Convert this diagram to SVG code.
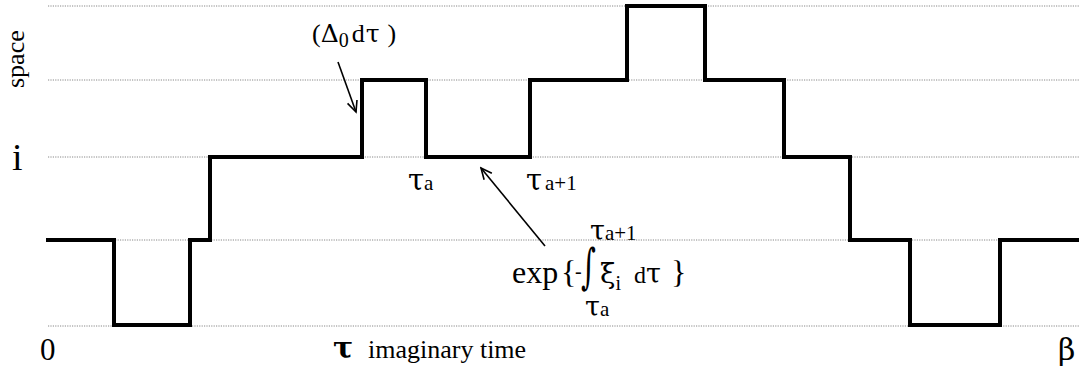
<svg xmlns="http://www.w3.org/2000/svg" width="1079" height="370" viewBox="0 0 1079 370">
<style>
.grid{stroke:#888;stroke-width:1;stroke-dasharray:1.2,1.2;fill:none}
.path{stroke:#000;stroke-width:4;fill:none;stroke-linejoin:miter;stroke-linecap:square}
.arr{stroke:#000;stroke-width:1.6;fill:none}
text{font-family:"Liberation Serif","Times New Roman",serif;fill:#000}
.g{font-family:"DejaVu Serif","Liberation Serif",serif}
</style>
<defs>
<marker id="ah" markerWidth="14" markerHeight="14" refX="12" refY="7" orient="auto" markerUnits="userSpaceOnUse">
<polyline points="1,2 12,7 1,12" fill="none" stroke="#000" stroke-width="1.6"/>
</marker>
</defs>
<rect width="1079" height="370" fill="#fff"/>
<g id="grid">
<line class="grid" x1="48" y1="6" x2="1079" y2="6"/>
<line class="grid" x1="48" y1="80" x2="1079" y2="80"/>
<line class="grid" x1="48" y1="157" x2="1079" y2="157"/>
<line class="grid" x1="48" y1="240" x2="1079" y2="240"/>
<line class="grid" x1="48" y1="326" x2="1079" y2="326"/>
</g>
<g id="worldline">
<path class="path" d="M48,240 H114 V325 H190 V240 H210 V157 H362 V80 H426 V157 H530 V80 H627 V6 H705 V80 H784 V157 H850 V240 H910 V325 H1000 V240 H1079"/>
</g>
<g id="axes">
<text transform="translate(24,88) rotate(-90)" font-size="26">space</text>
<text x="12" y="170" font-size="38">i</text>
<text x="40" y="360" font-size="31">0</text>
<text x="1058" y="360" font-size="30" class="g">β</text>
<text x="333" y="358" font-size="30" class="g" font-weight="bold">τ</text>
<text x="368" y="358" font-size="26">imaginary time</text>
</g>
<g id="labels">
<text x="312" y="42" font-size="26">(<tspan class="g" font-size="25">Δ</tspan><tspan font-size="20" dy="5">0</tspan><tspan dy="-5" dx="3">d</tspan><tspan class="g" font-size="25" dx="1">τ</tspan><tspan dx="8">)</tspan></text>
<text x="408" y="190" font-size="29" class="g">τ<tspan font-size="21" font-family="Liberation Serif">a</tspan></text>
<text x="526" y="190" font-size="29" class="g">τ<tspan font-size="21" dx="3" font-family="Liberation Serif">a+1</tspan></text>
<text x="512" y="283" font-size="32">exp</text>
<text x="561" y="283" font-size="32">{</text>
<text x="575" y="278" font-size="20">-</text>
<text x="578" y="282" font-size="46" class="g" transform="translate(586,266) scale(0.62,1.05) translate(-586,-266)">∫</text>
<text x="600" y="283" font-size="28" class="g">ξ<tspan font-size="20" dy="7" font-family="Liberation Serif">i</tspan></text>
<text x="634" y="283" font-size="24">d<tspan class="g" font-size="27">τ</tspan></text>
<text x="671" y="283" font-size="32">}</text>
<text x="590" y="240" font-size="27" class="g">τ<tspan font-size="21" font-family="Liberation Serif">a+1</tspan></text>
<text x="585" y="316" font-size="27" class="g">τ<tspan font-size="21" font-family="Liberation Serif">a</tspan></text>
</g>
<g id="connectors">
<line class="arr" x1="338" y1="62" x2="356" y2="112" marker-end="url(#ah)"/>
<line class="arr" x1="545" y1="246" x2="481" y2="168" marker-end="url(#ah)"/>
</g>
</svg>
